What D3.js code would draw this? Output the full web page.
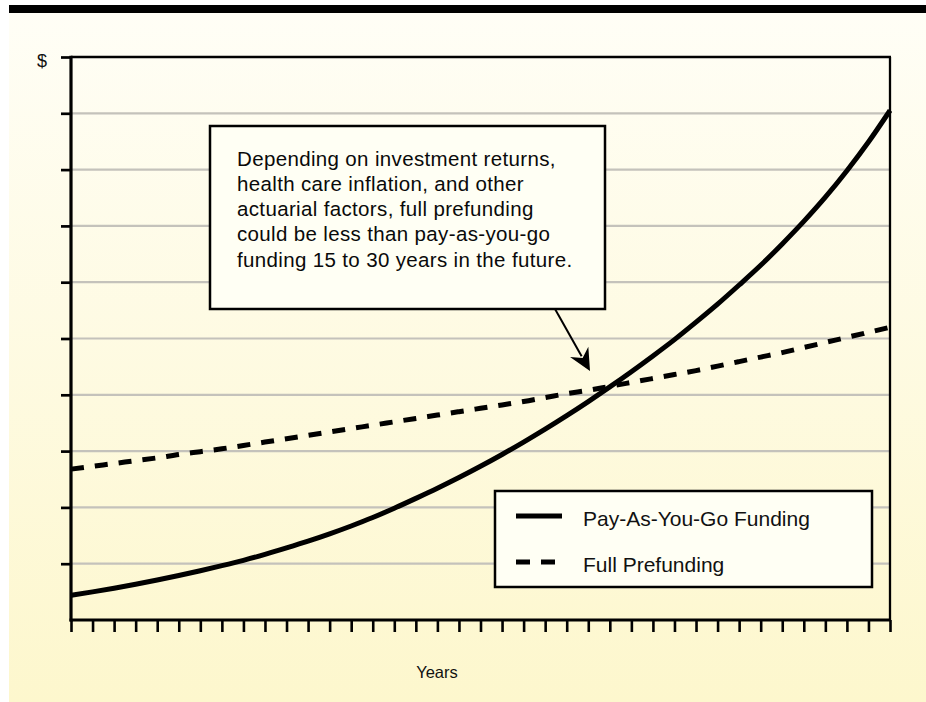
<!DOCTYPE html>
<html>
<head>
<meta charset="utf-8">
<script src="https://cdn.jsdelivr.net/npm/d3@7/dist/d3.min.js"></script>
<style>
  html, body { margin: 0; padding: 0; background: #ffffff; }
  svg { display: block; font-family: "Liberation Sans", Arial, Helvetica, sans-serif; }
</style>
</head>
<body>
<svg id="chart" width="926" height="702"></svg>
<script>
// Years on the horizontal axis (one tick per year)
const years = d3.range(0, 39);

// Annual cost, arbitrary dollar units (0 = bottom of axis, 10 = top)
const payAsYouGo = [
  0.44, 0.50, 0.565, 0.635, 0.71, 0.79, 0.875, 0.965, 1.06, 1.165,
  1.28, 1.40, 1.53, 1.67, 1.82, 1.985, 2.16, 2.34, 2.53, 2.73,
  2.94, 3.16, 3.39, 3.63, 3.88, 4.14, 4.41, 4.69, 4.98, 5.29,
  5.61, 5.95, 6.30, 6.68, 7.08, 7.51, 7.98, 8.49, 9.05
];
const fullPrefunding = [
  2.68, 2.73, 2.78, 2.83, 2.88, 2.94, 2.99, 3.04, 3.10, 3.16,
  3.22, 3.28, 3.34, 3.40, 3.46, 3.52, 3.58, 3.64, 3.70, 3.76,
  3.82, 3.88, 3.95, 4.02, 4.08, 4.15, 4.22, 4.29, 4.36, 4.43,
  4.51, 4.59, 4.67, 4.75, 4.84, 4.93, 5.02, 5.11, 5.20
];

const yTickValues = d3.range(1, 11);
const yTopLabel = "$";
const xAxisTitle = "Years";
const seriesNames = ["Pay-As-You-Go Funding", "Full Prefunding"];
const noteLines = [
  "Depending on investment returns,",
  "health care inflation, and other",
  "actuarial factors, full prefunding",
  "could be less than pay-as-you-go",
  "funding 15 to 30 years in the future."
];

const svg = d3.select("#chart");
const W = 926, H = 702;
const plot = { left: 71, right: 890, top: 57, bottom: 620 };

// Page background
const defs = svg.append("defs");
const grad = defs.append("linearGradient").attr("id", "bg").attr("x1", 0).attr("y1", 0).attr("x2", 0).attr("y2", 1);
grad.append("stop").attr("offset", "0%").attr("stop-color", "#fffef6");
grad.append("stop").attr("offset", "100%").attr("stop-color", "#fdf7cd");

svg.append("rect").attr("x", 9).attr("y", 13).attr("width", W - 9).attr("height", H - 13).attr("fill", "url(#bg)");
svg.append("rect").attr("x", 9).attr("y", 5).attr("width", W - 9).attr("height", 8).attr("fill", "#000");

const x = d3.scaleLinear().domain([0, 38]).range([plot.left, plot.right]);
const y = d3.scaleLinear().domain([0, 10]).range([plot.bottom, plot.top]);

// Horizontal gridlines
svg.append("g").selectAll("line")
  .data(yTickValues.slice(0, -1))
  .join("line")
  .attr("x1", plot.left).attr("x2", plot.right)
  .attr("y1", d => y(d)).attr("y2", d => y(d))
  .attr("stroke", "#c4c2bb").attr("stroke-width", 2.2);

// Top and right frame
svg.append("line").attr("x1", plot.left).attr("x2", plot.right + 1)
  .attr("y1", y(10)).attr("y2", y(10)).attr("stroke", "#000").attr("stroke-width", 2.6);
svg.append("line").attr("x1", plot.right).attr("x2", plot.right)
  .attr("y1", y(10)).attr("y2", plot.bottom).attr("stroke", "#000").attr("stroke-width", 2.3);

// Y axis (no labels)
const yAxis = d3.axisLeft(y).tickValues(yTickValues).tickSize(10).tickFormat("");
const gy = svg.append("g").attr("transform", `translate(${plot.left},0)`).call(yAxis);
gy.select(".domain").attr("stroke-width", 3.2).attr("d", `M0,${plot.top - 1.3}V${plot.bottom + 1.5}`);
gy.selectAll(".tick line").attr("stroke-width", 2.7);

// X axis (no labels)
const xAxis = d3.axisBottom(x).tickValues(years).tickSize(12).tickFormat("");
const gx = svg.append("g").attr("transform", `translate(0,${plot.bottom})`).call(xAxis);
gx.select(".domain").attr("stroke-width", 3).attr("d", `M${plot.left - 1.5},0H${plot.right + 1}`);
gx.selectAll(".tick line").attr("stroke-width", 2.6);

// Axis titles
svg.append("text").attr("x", 42).attr("y", 67).attr("text-anchor", "middle")
  .attr("font-size", 18).attr("fill", "#111").text(yTopLabel);
svg.append("text").attr("x", 437).attr("y", 678).attr("text-anchor", "middle")
  .attr("font-size", 16.5).attr("fill", "#111").text(xAxisTitle);

// Series lines
const line = d3.line().x((d, i) => x(years[i])).y(d => y(d)).curve(d3.curveMonotoneX);
svg.append("path").datum(fullPrefunding).attr("d", line)
  .attr("fill", "none").attr("stroke", "#000").attr("stroke-width", 5)
  .attr("stroke-dasharray", "13,11");
svg.append("path").datum(payAsYouGo).attr("d", line)
  .attr("fill", "none").attr("stroke", "#000").attr("stroke-width", 5);

// Callout box
const note = { x: 210, y: 126, w: 395, h: 183 };
svg.append("rect").attr("x", note.x).attr("y", note.y).attr("width", note.w).attr("height", note.h)
  .attr("fill", "#fffff4").attr("stroke", "#000").attr("stroke-width", 2.5);
svg.append("g").selectAll("text").data(noteLines).join("text")
  .attr("x", 237).attr("y", (d, i) => 165.5 + i * 25.3)
  .attr("font-size", 20.5).attr("letter-spacing", 0.35).attr("fill", "#0a0a0a").text(d => d);

// Callout arrow
const a0 = [555, note.y + note.h], a1 = [590, 371];
const ang = Math.atan2(a1[1] - a0[1], a1[0] - a0[0]);
const hl = 22, hw = 10.5;
const base = [a1[0] - hl * Math.cos(ang), a1[1] - hl * Math.sin(ang)];
svg.append("line").attr("x1", a0[0]).attr("y1", a0[1]).attr("x2", base[0] + 5 * Math.cos(ang)).attr("y2", base[1] + 5 * Math.sin(ang))
  .attr("stroke", "#000").attr("stroke-width", 2);
svg.append("path")
  .attr("d", `M${a1[0]},${a1[1]}L${base[0] + hw * Math.sin(ang)},${base[1] - hw * Math.cos(ang)}L${base[0] + 7 * Math.cos(ang)},${base[1] + 7 * Math.sin(ang)}L${base[0] - hw * Math.sin(ang)},${base[1] + hw * Math.cos(ang)}Z`)
  .attr("fill", "#000");

// Legend
const leg = { x: 495, y: 491, w: 377, h: 96 };
svg.append("rect").attr("x", leg.x).attr("y", leg.y).attr("width", leg.w).attr("height", leg.h)
  .attr("fill", "#fffff4").attr("stroke", "#000").attr("stroke-width", 2.5);
const legRows = [
  { name: seriesNames[0], dash: null, y: 516 },
  { name: seriesNames[1], dash: "14,11", y: 562 }
];
legRows.forEach(r => {
  svg.append("line").attr("x1", 516).attr("x2", 562).attr("y1", r.y).attr("y2", r.y)
    .attr("stroke", "#000").attr("stroke-width", 5).attr("stroke-dasharray", r.dash);
  svg.append("text").attr("x", 583).attr("y", r.y + 10)
    .attr("font-size", 21).attr("fill", "#111").text(r.name);
});
</script>
</body>
</html>
